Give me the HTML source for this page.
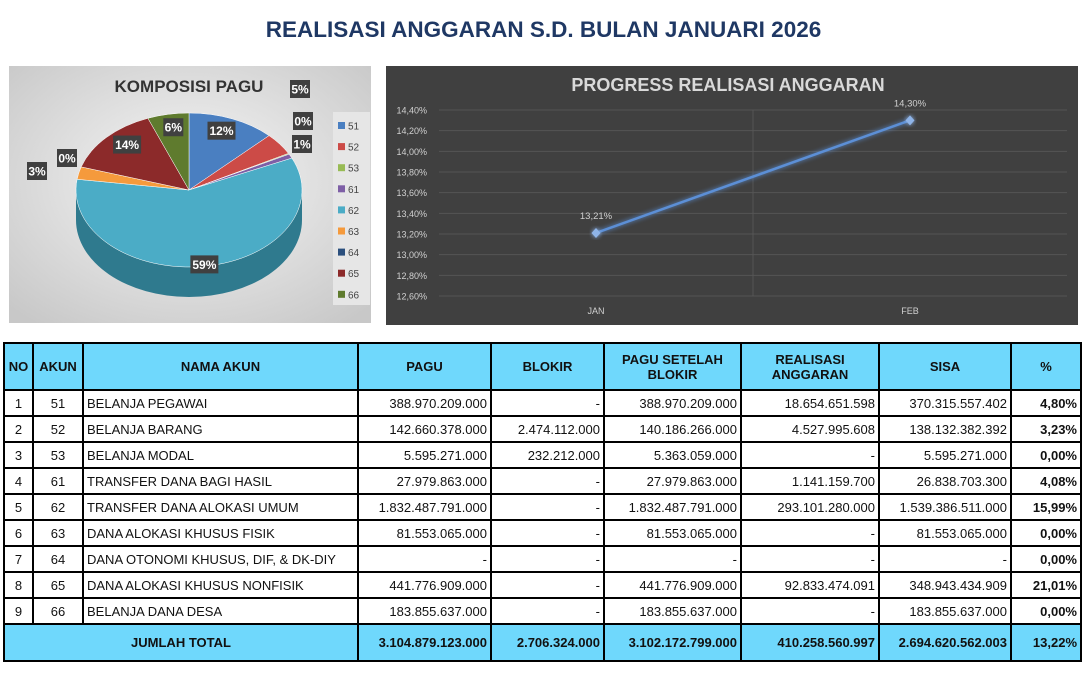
<!DOCTYPE html>
<html><head><meta charset="utf-8"><style>
body{margin:0;width:1087px;height:694px;background:#fff;font-family:"Liberation Sans",Arial,sans-serif;position:relative;overflow:hidden}
#title{position:absolute;left:0;width:1087px;top:17px;text-align:center;font-weight:bold;font-size:22.5px;color:#1f3864}
svg{position:absolute;left:0;top:0}
table{position:absolute;left:3px;top:342px;border-collapse:collapse;font-size:13px;color:#111;table-layout:fixed;width:1077px}
td,th{border:2px solid #000;padding:0 3px;height:24px;white-space:nowrap;overflow:hidden}
th{background:#6fd8fc;font-weight:bold;height:45px;font-size:13px}
tr.tot td{background:#6fd8fc;font-weight:bold;height:35px}
.c{text-align:center}.r{text-align:right}.l{text-align:left}.b{font-weight:bold}
</style></head><body>
<div id="title">REALISASI ANGGARAN S.D. BULAN JANUARI 2026</div>
<svg id="charts" width="1087" height="340">
<defs>
<radialGradient id="pbg" cx="50%" cy="45%" r="70%"><stop offset="0" stop-color="#f7f7f7"/><stop offset="1" stop-color="#c8c8c8"/></radialGradient>
<filter id="glow" x="-20%" y="-20%" width="140%" height="140%"><feGaussianBlur stdDeviation="2.5" result="b"/><feMerge><feMergeNode in="b"/><feMergeNode in="SourceGraphic"/></feMerge></filter>
</defs>
<rect x="9" y="66" width="362" height="257" fill="url(#pbg)"/>
<text x="189" y="92" text-anchor="middle" font-size="17" font-weight="bold" fill="#333">KOMPOSISI PAGU</text>
<g id="pie"></g><g id="pielabels"></g>
<rect x="333" y="112" width="37" height="193" fill="#e6e6e6"/>
<g id="legend"></g>
<rect x="386" y="66" width="692" height="259" fill="#404040"/>
<text x="728" y="91" text-anchor="middle" font-size="18" font-weight="bold" fill="#d9d9d9">PROGRESS REALISASI ANGGARAN</text>
<g id="line"></g>
</svg>
<table>
<colgroup><col style="width:29px"><col style="width:50px"><col style="width:275px"><col style="width:133px"><col style="width:113px"><col style="width:137px"><col style="width:138px"><col style="width:132px"><col style="width:70px"></colgroup>
<tr><th>NO</th><th>AKUN</th><th>NAMA AKUN</th><th>PAGU</th><th>BLOKIR</th><th>PAGU SETELAH<br>BLOKIR</th><th>REALISASI<br>ANGGARAN</th><th>SISA</th><th>%</th></tr>
<tr><td class="c">1</td><td class="c">51</td><td class="l">BELANJA PEGAWAI</td><td class="r">388.970.209.000</td><td class="r">-</td><td class="r">388.970.209.000</td><td class="r">18.654.651.598</td><td class="r">370.315.557.402</td><td class="r b">4,80%</td></tr>
<tr><td class="c">2</td><td class="c">52</td><td class="l">BELANJA BARANG</td><td class="r">142.660.378.000</td><td class="r">2.474.112.000</td><td class="r">140.186.266.000</td><td class="r">4.527.995.608</td><td class="r">138.132.382.392</td><td class="r b">3,23%</td></tr>
<tr><td class="c">3</td><td class="c">53</td><td class="l">BELANJA MODAL</td><td class="r">5.595.271.000</td><td class="r">232.212.000</td><td class="r">5.363.059.000</td><td class="r">-</td><td class="r">5.595.271.000</td><td class="r b">0,00%</td></tr>
<tr><td class="c">4</td><td class="c">61</td><td class="l">TRANSFER DANA BAGI HASIL</td><td class="r">27.979.863.000</td><td class="r">-</td><td class="r">27.979.863.000</td><td class="r">1.141.159.700</td><td class="r">26.838.703.300</td><td class="r b">4,08%</td></tr>
<tr><td class="c">5</td><td class="c">62</td><td class="l">TRANSFER DANA ALOKASI UMUM</td><td class="r">1.832.487.791.000</td><td class="r">-</td><td class="r">1.832.487.791.000</td><td class="r">293.101.280.000</td><td class="r">1.539.386.511.000</td><td class="r b">15,99%</td></tr>
<tr><td class="c">6</td><td class="c">63</td><td class="l">DANA ALOKASI KHUSUS FISIK</td><td class="r">81.553.065.000</td><td class="r">-</td><td class="r">81.553.065.000</td><td class="r">-</td><td class="r">81.553.065.000</td><td class="r b">0,00%</td></tr>
<tr><td class="c">7</td><td class="c">64</td><td class="l">DANA OTONOMI KHUSUS, DIF, &amp; DK-DIY</td><td class="r">-</td><td class="r">-</td><td class="r">-</td><td class="r">-</td><td class="r">-</td><td class="r b">0,00%</td></tr>
<tr><td class="c">8</td><td class="c">65</td><td class="l">DANA ALOKASI KHUSUS NONFISIK</td><td class="r">441.776.909.000</td><td class="r">-</td><td class="r">441.776.909.000</td><td class="r">92.833.474.091</td><td class="r">348.943.434.909</td><td class="r b">21,01%</td></tr>
<tr><td class="c">9</td><td class="c">66</td><td class="l">BELANJA DANA DESA</td><td class="r">183.855.637.000</td><td class="r">-</td><td class="r">183.855.637.000</td><td class="r">-</td><td class="r">183.855.637.000</td><td class="r b">0,00%</td></tr>
<tr class="tot"><td class="c" colspan="3">JUMLAH TOTAL</td><td class="r">3.104.879.123.000</td><td class="r">2.706.324.000</td><td class="r">3.102.172.799.000</td><td class="r">410.258.560.997</td><td class="r">2.694.620.562.003</td><td class="r">13,22%</td></tr>
</table>
<script>
const pieCats=["51","52","53","61","62","63","64","65","66"];
const pieVals=[388.97,142.66,5.60,27.98,1832.49,81.55,0,441.78,183.86];
const pieLabels=["12%","5%","0%","1%","59%","3%","0%","14%","6%"];
const pieColors=["#4a7fc1","#cc4b47","#98bb55","#7e5fa6","#4bacc6","#f59a3c","#2b4f7d","#8c2a2a","#5f7b2e"];
const pieSide=["#2f5a8f","#8f3330","#6c863b","#5a4477","#2f7a8e","#b06d28","#1d3656","#611c1c","#435720"];
const lineCats=["JAN","FEB"];
const lineVals=[13.21,14.30];
const lineLabels=["13,21%","14,30%"];
const yTicks=[12.6,12.8,13.0,13.2,13.4,13.6,13.8,14.0,14.2,14.4];
const NS="http://www.w3.org/2000/svg";
function mk(t,a,p){const e=document.createElementNS(NS,t);for(const k in a)e.setAttribute(k,a[k]);p.appendChild(e);return e;}
const cx=189,cy=190,rx=113,ry=77,dep=30;
const pt=(th,dy)=>[cx+rx*Math.sin(th),cy-ry*Math.cos(th)+(dy||0)];
const total=pieVals.reduce((a,b)=>a+b,0);
const g=document.getElementById('pie'),gl=document.getElementById('pielabels');
let a=0;const sl=[];
pieVals.forEach((v,i)=>{const b=a+v/total*2*Math.PI;sl.push([a,b]);a=b;});
sl.forEach(([a1,b1],i)=>{
  const s=Math.max(a1,Math.PI/2),e=Math.min(b1,Math.PI*1.5);
  if(e<=s)return;
  const p1=pt(s),p2=pt(e),p3=pt(e,dep),p4=pt(s,dep);
  const side=mk('path',{d:`M${p1}A${rx},${ry} 0 0 1 ${p2}L${p3}A${rx},${ry} 0 0 0 ${p4}Z`,fill:pieSide[i]},g);
  
  
});
sl.forEach(([a1,b1],i)=>{
  if(b1-a1<=0)return;
  const p1=pt(a1),p2=pt(b1),lg=(b1-a1)>Math.PI?1:0;
  const s=mk('path',{d:`M${cx},${cy}L${p1}A${rx},${ry} 0 ${lg} 1 ${p2}Z`,fill:pieColors[i],stroke:'#fff','stroke-width':0.5},g);
  
  
});
const outside={1:[300,89],2:[303,121],3:[302,144],5:[37,171],6:[67,158]};
sl.forEach(([a1,b1],i)=>{
  const m=(a1+b1)/2;let x,y;
  if(outside[i]){[x,y]=outside[i];}
  else{const f=i===4?0.95:0.75;x=cx+rx*f*Math.sin(m);y=cy-ry*f*Math.cos(m)+(i===4?2:-6);}
  const w=pieLabels[i].length*8+4;
  const r=mk('rect',{x:x-w/2,y:y-9,width:w,height:18,fill:'#404040'},gl);
  
  
  const t=mk('text',{x:x,y:y+4.5,'text-anchor':'middle','font-size':12,'font-weight':'bold',fill:'#fff'},gl);
  t.textContent=pieLabels[i];
  
  
});
const lg=document.getElementById('legend');
pieCats.forEach((c,i)=>{
  const y=126+i*21.1;
  const r=mk('rect',{x:338,y:y-4,width:7,height:7,fill:pieColors[i]},lg);
  
  
  const t=mk('text',{x:348,y:y+3.5,'font-size':10,fill:'#444'},lg);
  t.textContent=c;
  
  
});
const L=document.getElementById('line');
const x0=439,x1=1067,yTop=110,yBot=296;
const ymin=yTicks[0],ymax=yTicks[yTicks.length-1];
const Y=v=>yBot-(v-ymin)/(ymax-ymin)*(yBot-yTop);
const X=i=>x0+(i+0.5)*(x1-x0)/lineCats.length;
yTicks.forEach(v=>{
  const l=mk('line',{x1:x0,x2:x1,y1:Y(v),y2:Y(v),stroke:'#555','stroke-width':1},L);
  
  
  const t=mk('text',{x:x0-12,y:Y(v)+3.5,'text-anchor':'end','font-size':9,fill:'#d0d0d0'},L);
  t.textContent=v.toFixed(2).replace('.',',')+'%';
  
  
});
for(let i=1;i<lineCats.length;i++){
  const xv=x0+i*(x1-x0)/lineCats.length;
  const l=mk('line',{x1:xv,x2:xv,y1:yTop,y2:yBot,stroke:'#555'},L);
  
  
}
lineCats.forEach((c,i)=>{
  const t=mk('text',{x:X(i),y:314,'text-anchor':'middle','font-size':9,fill:'#d0d0d0'},L);
  t.textContent=c;
  
  
});
const path=mk('polyline',{points:lineVals.map((v,i)=>X(i)+','+Y(v)).join(' '),fill:'none',stroke:'#5b8fd6','stroke-width':2.5,filter:'url(#glow)'},L);


lineVals.forEach((v,i)=>{
  const x=X(i),y=Y(v);
  const m=mk('path',{d:`M${x},${y-5}L${x+4.5},${y}L${x},${y+5}L${x-4.5},${y}Z`,fill:'#8fb4e8',filter:'url(#glow)'},L);
  
  
  const t=mk('text',{x:x,y:y-14,'text-anchor':'middle','font-size':9.5,fill:'#d0d0d0'},L);
  t.textContent=lineLabels[i];
  
  
});
</script>
</body></html>
